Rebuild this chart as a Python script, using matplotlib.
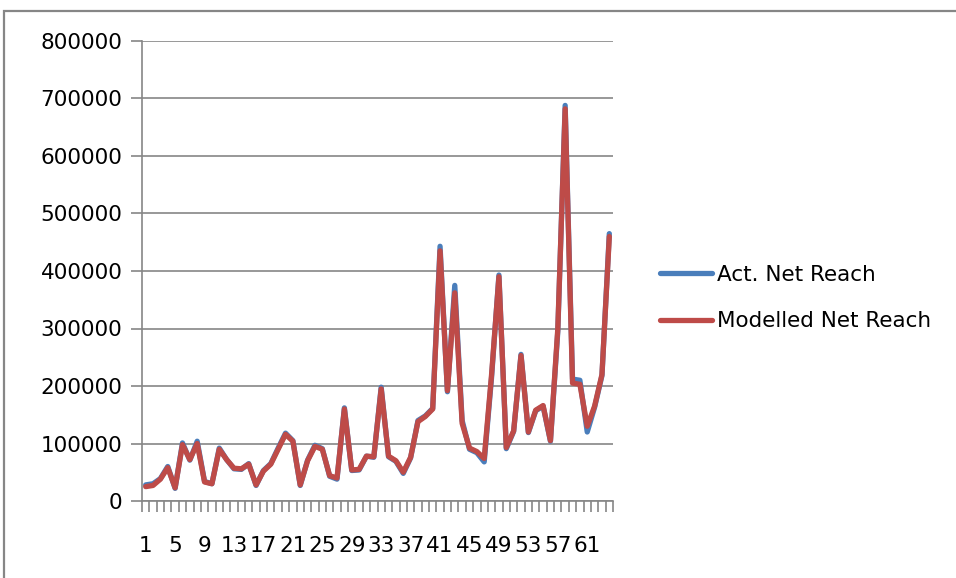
import matplotlib.pyplot as plt
from matplotlib.patches import Rectangle

# Data (64 periods)
periods = list(range(1, 65))
modelled = [25000, 27000, 38000, 58000, 23000, 98000, 72000, 100000, 33000, 30000,
            90000, 72000, 57000, 56000, 64000, 28000, 52000, 64000, 90000, 116000,
            104000, 28000, 70000, 95000, 90000, 44000, 40000, 160000, 54000, 55000,
            78000, 77000, 195000, 78000, 70000, 50000, 76000, 138000, 147000, 160000,
            435000, 192000, 362000, 135000, 92000, 86000, 74000, 220000, 390000, 93000,
            122000, 253000, 120000, 158000, 166000, 105000, 300000, 682000, 205000, 203000,
            130000, 165000, 220000, 460000]
actual = [28000, 30000, 39000, 60000, 22000, 101000, 71000, 104000, 34000, 30000,
          92000, 72000, 56000, 55000, 65000, 27000, 53000, 65000, 92000, 118000,
          105000, 27000, 71000, 97000, 91000, 43000, 38000, 162000, 53000, 54000,
          78000, 76000, 198000, 77000, 69000, 48000, 75000, 140000, 148000, 161000,
          443000, 190000, 375000, 140000, 90000, 84000, 68000, 215000, 393000, 91000,
          121000, 255000, 119000, 157000, 165000, 104000, 295000, 688000, 212000, 210000,
          120000, 163000, 218000, 465000]
tick_labels = [str(p) for p in periods[::4]]

grey = '#868686'
fs = 15.5

fig = plt.figure(figsize=(9.56, 5.78), dpi=100)
ax = fig.add_axes([142/956, 1 - 501/578, 471/956, 460/578])

ax.plot(periods, actual, color='#4A7EBB', lw=3.8, solid_capstyle='round',
        solid_joinstyle='round', label='Act. Net Reach')
ax.plot(periods, modelled, color='#BE4B48', lw=3.8, solid_capstyle='round',
        solid_joinstyle='round', label='Modelled Net Reach')

ax.set_xlim(0.5, 64.5)
ax.set_ylim(0, 800000)
ax.set_yticks(range(0, 800001, 100000))
ax.set_yticklabels([str(v) for v in range(0, 800001, 100000)], fontsize=fs)

# category labels every 4th, tick marks between categories
ax.set_xticks(periods[::4])
ax.set_xticklabels(tick_labels, fontsize=fs)
ax.set_xticks([p + 0.5 for p in range(0, 65)], minor=True)
ax.tick_params(axis='x', which='major', length=0, pad=25)
ax.tick_params(axis='x', which='minor', length=8, color=grey, width=1.2, direction='out')
ax.tick_params(axis='y', length=8, color=grey, width=1.2, pad=6)

ax.yaxis.grid(True, color=grey, lw=1.2)
ax.set_axisbelow(True)
for s in ['top', 'right']:
    ax.spines[s].set_visible(False)
for s in ['left', 'bottom']:
    ax.spines[s].set_color(grey)
    ax.spines[s].set_linewidth(1.2)

fig.legend(loc='center left', bbox_to_anchor=(660/956, 1 - 298/578), frameon=False,
           fontsize=fs, handlelength=2.4, handletextpad=0.25, labelspacing=1.25,
           borderpad=0, borderaxespad=0)

# outer chart frame
fig.patches.append(Rectangle((4/956, -0.1), 1.2, 1.1 - 11/578, transform=fig.transFigure,
                             fill=False, edgecolor=grey, lw=1.6))

fig.savefig('out.png', dpi=100)
